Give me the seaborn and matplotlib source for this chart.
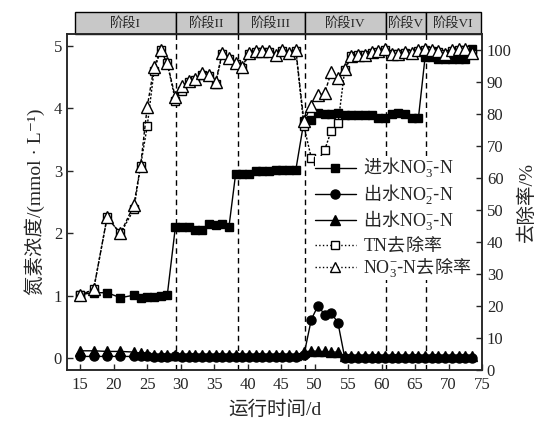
import matplotlib
matplotlib.use("Agg")
import matplotlib.pyplot as plt
import matplotlib.transforms as mtransforms
from matplotlib.patches import Rectangle
from matplotlib.lines import Line2D
import seaborn as sns
import pandas as pd

# sampling days
days = [15, 17, 19, 21, 23, 24, 25, 26, 27, 28,
        29.2, 30.2, 31.2, 32.2, 33.2, 34.2, 35.2, 36.2, 37.2,
        38.2, 39.2, 40.2, 41.2, 42.2, 43.2, 44.2, 45.2, 46.2, 47.2,
        48.4, 49.5, 50.5, 51.5, 52.5, 53.5, 54.5, 55.5, 56.5, 57.5, 58.5, 59.5, 60.5,
        61.5, 62.5, 63.5, 64.5, 65.5,
        66.5, 67.5, 68.5, 69.5, 70.5, 71.5, 72.5, 73.5]

# mmol/L
inf_no3 = [1.02, 1.05, 1.05, 0.97, 1.01, 0.97, 0.98, 0.98, 0.99, 1.02,
           2.10, 2.10, 2.10, 2.05, 2.05, 2.15, 2.13, 2.15, 2.10,
           2.95, 2.95, 2.95, 3.00, 3.00, 3.00, 3.02, 3.02, 3.02, 3.02,
           3.79, 3.81, 3.93, 3.91, 3.91, 3.93, 3.90, 3.90, 3.90, 3.90, 3.90, 3.85, 3.84,
           3.91, 3.92, 3.91, 3.84, 3.84,
           4.82, 4.82, 4.79, 4.79, 4.79, 4.79, 4.79, 4.95]
eff_no2 = [0.03, 0.03, 0.03, 0.03, 0.03, 0.03, 0.04, 0.02, 0.02, 0.02,
           0.03, 0.02, 0.02, 0.02, 0.02, 0.02, 0.02, 0.02, 0.02,
           0.02, 0.02, 0.02, 0.02, 0.02, 0.02, 0.02, 0.02, 0.02, 0.02,
           0.05, 0.62, 0.84, 0.70, 0.73, 0.56, 0.01, 0.01, 0.01, 0.01, 0.01, 0.01, 0.01,
           0.01, 0.01, 0.01, 0.01, 0.01,
           0.01, 0.01, 0.01, 0.01, 0.01, 0.01, 0.01, 0.01]
eff_no3 = [0.12, 0.12, 0.11, 0.11, 0.10, 0.08, 0.07, 0.05, 0.05, 0.05,
           0.06, 0.05, 0.05, 0.05, 0.05, 0.05, 0.05, 0.05, 0.05,
           0.05, 0.05, 0.05, 0.05, 0.05, 0.05, 0.05, 0.05, 0.05, 0.05,
           0.10, 0.12, 0.11, 0.11, 0.10, 0.10, 0.03, 0.03, 0.03, 0.03, 0.03, 0.03, 0.03,
           0.03, 0.03, 0.03, 0.03, 0.03,
           0.03, 0.03, 0.03, 0.03, 0.03, 0.03, 0.03, 0.03]

# %
tn_rem = [23.4, 25.3, 47.7, 42.7, 50.2, 63.8, 76.3, 93.3, 100.0, 95.8,
          84.2, 87.1, 90.0, 90.6, 92.3, 92.0, 89.4, 98.7, 97.2,
          95.5, 94.5, 98.7, 99.3, 99.3, 99.3, 98.2, 99.7, 98.7, 99.7,
          76.3, 66.3, 65.4, 68.8, 74.8, 77.1, 93.8, 98.0, 98.3, 98.3, 99.1, 99.4, 100.0,
          98.6, 98.6, 99.1, 98.8, 99.8,
          100.0, 99.8, 99.4, 98.6, 99.8, 100.0, 100.0, 98.8]
no3_rem = [23.4, 25.3, 47.7, 42.7, 51.6, 63.8, 82.3, 94.6, 100.0, 95.8,
           85.2, 88.8, 90.4, 90.9, 92.7, 92.3, 89.9, 99.0, 97.5,
           95.8, 94.8, 99.0, 99.6, 99.6, 99.6, 98.5, 100.0, 99.0, 100.0,
           77.7, 82.6, 85.9, 86.5, 93.2, 91.3, 94.1, 98.2, 98.5, 98.5, 99.3, 99.6, 100.3,
           98.8, 98.8, 99.3, 99.0, 100.0,
           100.3, 100.0, 99.6, 98.8, 100.0, 100.3, 100.3, 99.0]

stage_edges = [14.25, 29.3, 38.5, 48.6, 60.6, 66.7, 74.8]
stage_names = ["阶段I", "阶段II", "阶段III", "阶段IV", "阶段V", "阶段VI"]

df = pd.DataFrame({"day": days, "inf_no3": inf_no3, "eff_no2": eff_no2,
                   "eff_no3": eff_no3, "tn": tn_rem, "no3r": no3_rem})

sns.set_style("ticks")
plt.rcParams["font.family"] = ["Liberation Serif", "Noto Sans CJK SC", "DejaVu Serif"]
# latin inside \mathsf is serif; text outside $ uses the legend's own font
plt.rcParams["mathtext.fontset"] = "custom"
plt.rcParams["mathtext.rm"] = "Liberation Serif"
plt.rcParams["mathtext.sf"] = "Liberation Serif"
plt.rcParams["mathtext.it"] = "Liberation Serif:italic"
plt.rcParams["mathtext.bf"] = "Liberation Serif:bold"
plt.rcParams["axes.linewidth"] = 1.1

fig = plt.figure(figsize=(5.44, 4.25), dpi=100)
ax = fig.add_axes([0.123, 0.129, 0.763, 0.791])
ax2 = ax.twinx()

common = dict(color="k", linewidth=1.0, mec="k", mew=1.0)
sns.lineplot(data=df, x="day", y="inf_no3", marker="s", ms=6, ax=ax, **common)
sns.lineplot(data=df, x="day", y="eff_no2", marker="o", ms=6.5, ax=ax, **common)
sns.lineplot(data=df, x="day", y="eff_no3", marker="^", ms=7, ax=ax, **common)
sns.lineplot(data=df, x="day", y="tn", marker="s", ms=6, mfc="white",
             linestyle=(0, (1.5, 1.2)), ax=ax2, **common)
sns.lineplot(data=df, x="day", y="no3r", marker="^", ms=8, mfc="white",
             linestyle=(0, (2.5, 1.5)), ax=ax2, **common)

# stage separators
for xe in stage_edges[1:-1]:
    ax.axvline(xe, color="k", linestyle=(0, (4, 3)), linewidth=1.0, zorder=0)

# stage header boxes
trans = mtransforms.blended_transform_factory(ax.transData, ax.transAxes)
for x0, x1, name in zip(stage_edges[:-1], stage_edges[1:], stage_names):
    ax.add_patch(Rectangle((x0, 1.0), x1 - x0, 0.064, transform=trans,
                           clip_on=False, facecolor="#c8c8c8", edgecolor="k",
                           linewidth=1.0))
    ax.text((x0 + x1) / 2, 1.032, name, transform=trans, ha="center",
            va="center", fontsize=9.5)

ax.set_xlim(13, 75)
ax.set_ylim(-0.19, 5.19)
ax2.set_ylim(0, 105)
ax.set_xticks(range(15, 76, 5))
ax.set_yticks(range(0, 6))
ax2.set_yticks(range(0, 101, 10))

ax.tick_params(axis="both", direction="in", length=4, width=1, labelsize=12)
ax.tick_params(axis="x", pad=5)
ax2.tick_params(axis="y", direction="in", length=4, width=1, labelsize=12)
ax.set_xlabel("运行时间/d", fontsize=14, labelpad=5)
ax.set_ylabel("氮素浓度/(mmol · L⁻¹)", fontsize=14, labelpad=6)
ax2.set_ylabel("去除率/%", fontsize=14, labelpad=4)
for a in (ax, ax2):
    for s in a.spines.values():
        s.set_visible(True)
        s.set_linewidth(1.1)

handles = [
    Line2D([], [], color="k", lw=1, marker="s", ms=6),
    Line2D([], [], color="k", lw=1, marker="o", ms=6.5),
    Line2D([], [], color="k", lw=1, marker="^", ms=7),
    Line2D([], [], color="k", lw=1, ls=":", marker="s", ms=6, mfc="white"),
    Line2D([], [], color="k", lw=1, ls=":", marker="^", ms=7, mfc="white"),
]
no3 = r"$\mathsf{NO}_{\mathsf{3}}^{-}$-$\mathsf{N}$"
no2 = r"$\mathsf{NO}_{\mathsf{2}}^{-}$-$\mathsf{N}$"
labels = ["进水" + no3, "出水" + no2, "出水" + no3, r"$\mathsf{TN}$去除率", no3 + "去除率"]
leg = ax2.legend(handles, labels, loc="upper left", bbox_to_anchor=(0.575, 0.664),
                 frameon=True, framealpha=1, facecolor="white", edgecolor="none",
                 prop={"family": "Noto Sans CJK SC", "size": 13},
                 handlelength=2.3, handletextpad=0.4,
                 labelspacing=0.1, borderpad=0.0, fancybox=False)
leg.set_zorder(10)

fig.savefig("out.png", dpi=100)
